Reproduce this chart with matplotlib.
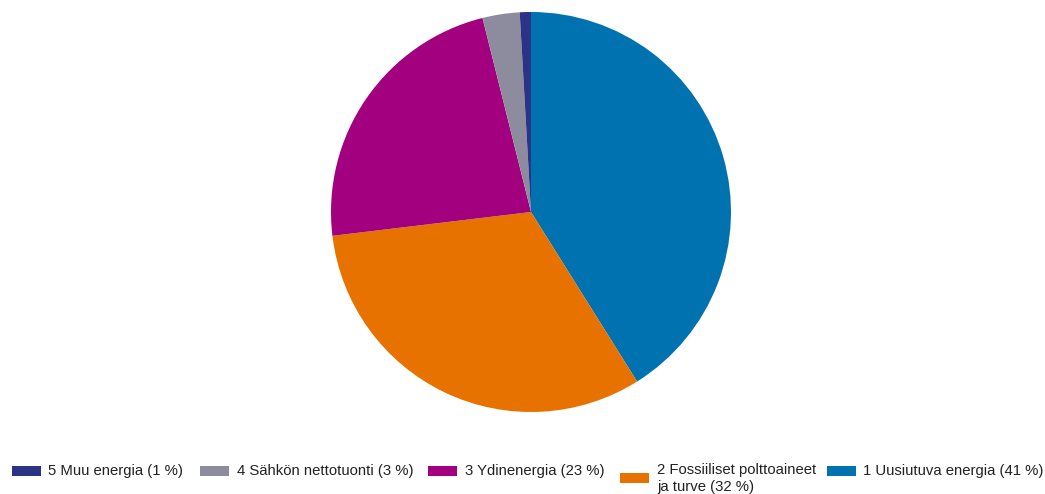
import matplotlib
matplotlib.use("Agg")
import matplotlib.pyplot as plt
from matplotlib.patches import Rectangle

plt.rcParams['font.family'] = ['Liberation Sans', 'DejaVu Sans']

labels = ["1 Uusiutuva energia (41 %)", "2 Fossiiliset polttoaineet\nja turve (32 %)",
          "3 Ydinenergia (23 %)", "4 Sähkön nettotuonti (3 %)", "5 Muu energia (1 %)"]
values = [41.1, 32.0, 23.0, 3.0, 0.9]
colors = ["#0072B0", "#E87200", "#A2007E", "#8C8C9E", "#2A3386"]

W, H = 1045, 494
fig = plt.figure(figsize=(W / 100, H / 100), dpi=100)
cx, cy, r = 531, H - 212, 200
ax = fig.add_axes([(cx - r) / W, (cy - r) / H, 2 * r / W, 2 * r / H])
ax.pie(values, colors=colors, startangle=90, counterclock=False,
       wedgeprops=dict(linewidth=0))
ax.set_aspect('equal')
ax.set_xlim(-1, 1)
ax.set_ylim(-1, 1)

# legend layout (pixel positions, from top-left): handle x, handle top y, text x
legend_pos = [(827, 466, 863), (620, 473, 657), (428, 466, 465), (200, 466, 237), (12, 466, 48)]
hw, hh = 29, 10
for lab, col, (hx, hy, tx) in zip(labels, colors, legend_pos):
    fig.patches.append(Rectangle((hx / W, (H - hy - hh) / H), hw / W, hh / H,
                                 transform=fig.transFigure, facecolor=col,
                                 edgecolor='none'))
    lines = lab.split("\n")
    for i, line in enumerate(lines):
        ty = 471 if len(lines) == 1 else 470 + 17 * i
        fig.text(tx / W, (H - ty) / H, line, fontsize=10.7, color='#222222',
                 ha='left', va='center')

fig.savefig("out.png", dpi=100)
